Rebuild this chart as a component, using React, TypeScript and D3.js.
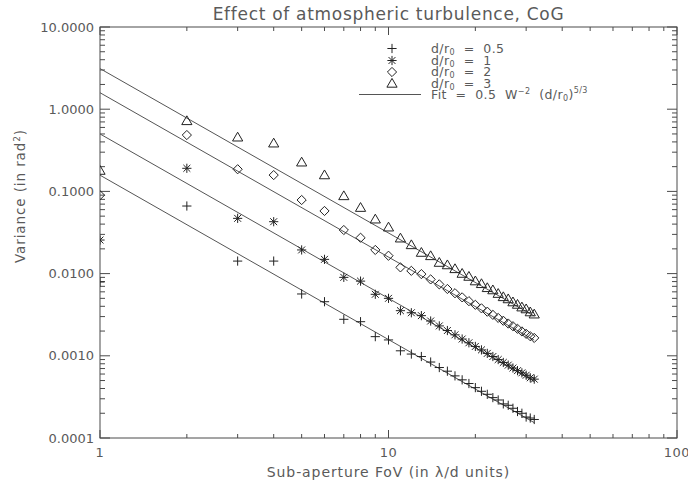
import React from "react";
import * as d3 from "d3";

const xs = [1,2,3,4,5,6,7,8,9,10,11,12,13,14,15,16,17,18,19,20,21,22,23,24,25,26,27,28,29,30,31,32];
const ratios = [0.5, 1, 2, 3];
const vPlus = [0.0079,0.0664,0.0142,0.0142,0.00565,0.00455,0.00278,0.0026,0.00171,0.00156,0.00115,0.00105,0.00098,0.00084,0.00072,0.00065,0.00057,0.00051,0.00046,0.00041,0.00037,0.00034,0.00031,0.00029,0.00026,0.00025,0.00023,0.00021,0.0002,0.00018,0.000175,0.000168];
const vStar = [0.0256,0.191,0.047,0.0428,0.0194,0.0149,0.009,0.0081,0.0056,0.005,0.00354,0.00334,0.00308,0.00265,0.00231,0.00203,0.0018,0.0016,0.00144,0.0013,0.00118,0.00107,0.00098,0.0009,0.00083,0.00077,0.00071,0.00066,0.00062,0.00058,0.00054,0.00052];
const vDiamond = [0.09,0.485,0.186,0.158,0.0786,0.0578,0.0339,0.0273,0.0194,0.0165,0.0119,0.0108,0.00986,0.0085,0.0074,0.0065,0.00577,0.00514,0.00462,0.00417,0.00378,0.00344,0.00315,0.00289,0.00267,0.00247,0.00229,0.00213,0.00198,0.00185,0.00173,0.00165];
const vTriangle = [0.179,0.72,0.455,0.385,0.226,0.158,0.088,0.0634,0.0458,0.0366,0.0269,0.0223,0.018,0.0164,0.0136,0.0127,0.0114,0.01,0.0092,0.0081,0.0075,0.0067,0.0063,0.0057,0.0052,0.0049,0.0045,0.0042,0.0039,0.0037,0.0034,0.0032];
const yTickLabels = ["0.0001","0.0010","0.0100","0.1000","1.0000","10.0000"];
const xTickLabels = ["1","10","100"];
const legendRatios = ["0.5","1","2","3"];

const W = 688, H = 484;
const L = 100, R = 677, T = 27, B = 438;
const axisColor = "#4a4a4a";
const textColor = "#5a5a5a";
const markColor = "#222";
const lineColor = "#555";
const font = "DejaVu Sans, sans-serif";

function Marker({ kind, x, y }: { kind: string; x: number; y: number }) {
  const s = 4.6;
  const common = { stroke: markColor, strokeWidth: 1, fill: "none" };
  if (kind === "plus") {
    return <path d={`M${x - s},${y}H${x + s}M${x},${y - s}V${y + s}`} {...common} />;
  }
  if (kind === "star") {
    const d = s * 0.75;
    return <path d={`M${x - s},${y}H${x + s}M${x},${y - s}V${y + s}M${x - d},${y - d}L${x + d},${y + d}M${x - d},${y + d}L${x + d},${y - d}`} {...common} />;
  }
  if (kind === "diamond") {
    return <path d={`M${x},${y - s}L${x + s},${y}L${x},${y + s}L${x - s},${y}Z`} {...common} />;
  }
  return <path d={`M${x},${y - s - 0.5}L${x + s + 0.5},${y + s * 0.8}L${x - s - 0.5},${y + s * 0.8}Z`} {...common} />;
}

export default function App() {
  const x = d3.scaleLog().domain([1, 100]).range([L, R]);
  const y = d3.scaleLog().domain([0.0001, 10]).range([B, T]);
  const series = [
    { kind: "plus", vals: vPlus },
    { kind: "star", vals: vStar },
    { kind: "diamond", vals: vDiamond },
    { kind: "triangle", vals: vTriangle },
  ];
  const xMajor = [1, 10, 100];
  const xMinor: number[] = [];
  for (const dec of [1, 10]) for (let k = 2; k <= 9; k++) xMinor.push(dec * k);
  const yMajor = [0.0001, 0.001, 0.01, 0.1, 1, 10];
  const yMinor: number[] = [];
  for (const dec of [0.0001, 0.001, 0.01, 0.1, 1]) for (let k = 2; k <= 9; k++) yMinor.push(dec * k);
  const line = d3.line<number>().x((d) => x(d));
  const fitX = [xs[0], xs[xs.length - 1]];

  const legX = 392, legTextX = 431;
  const legY = [48.5, 60.5, 72, 83.5];
  const kinds = ["plus", "star", "diamond", "triangle"];

  return (
    <svg width={W} height={H} style={{ position: "absolute", left: 0, top: 0, background: "#fff" }} fontFamily={font}>
      <defs>
        <clipPath id="plotclip">
          <rect x={L} y={T} width={R - L} height={B - T} />
        </clipPath>
      </defs>
      <rect width={W} height={H} fill="#fff" />
      <text x={(L + R) / 2} y={20} textAnchor="middle" fontSize={17} letterSpacing={0.7} fill={textColor}>
        Effect of atmospheric turbulence, CoG
      </text>
      <rect x={L} y={T} width={R - L} height={B - T} fill="none" stroke={axisColor} strokeWidth={1} />
      {xMajor.map((v) => (
        <g key={"xm" + v}>
          <line x1={x(v)} x2={x(v)} y1={B} y2={B - 8} stroke={axisColor} />
          <line x1={x(v)} x2={x(v)} y1={T} y2={T + 8} stroke={axisColor} />
        </g>
      ))}
      {xMinor.map((v) => (
        <g key={"xn" + v}>
          <line x1={x(v)} x2={x(v)} y1={B} y2={B - 4} stroke={axisColor} />
          <line x1={x(v)} x2={x(v)} y1={T} y2={T + 4} stroke={axisColor} />
        </g>
      ))}
      {xMajor.map((v, i) => (
        <text key={"xl" + v} x={x(v)} y={457} textAnchor="middle" fontSize={13} letterSpacing={0.5} fill={textColor}>
          {xTickLabels[i]}
        </text>
      ))}
      {yMajor.map((v) => (
        <g key={"ym" + v}>
          <line x1={L} x2={L + 10} y1={y(v)} y2={y(v)} stroke={axisColor} />
          <line x1={R} x2={R - 10} y1={y(v)} y2={y(v)} stroke={axisColor} />
        </g>
      ))}
      {yMinor.map((v) => (
        <g key={"yn" + v}>
          <line x1={L} x2={L + 5} y1={y(v)} y2={y(v)} stroke={axisColor} />
          <line x1={R} x2={R - 5} y1={y(v)} y2={y(v)} stroke={axisColor} />
        </g>
      ))}
      {yMajor.map((v, i) => (
        <text key={"yl" + v} x={94} y={y(v) + 4.5} textAnchor="end" fontSize={13} fill={textColor}>
          {yTickLabels[i]}
        </text>
      ))}
      <text x={(L + R) / 2} y={477} textAnchor="middle" fontSize={14} letterSpacing={0.9} fill={textColor}>
        Sub-aperture FoV (in λ/d units)
      </text>
      <text transform={`translate(25,196) rotate(-90)`} textAnchor="middle" fontSize={13.5} letterSpacing={0.9} fill={textColor}>
        Variance (in rad<tspan baseline-shift="super" fontSize={9}>2</tspan>)
      </text>
      <g clipPath="url(#plotclip)">
        {ratios.map((r) => (
          <path key={"fit" + r} d={line.y((d) => y(0.5 * Math.pow(d, -2) * Math.pow(r, 5 / 3)))(fitX) || ""} fill="none" stroke={lineColor} strokeWidth={1} />
        ))}
        {series.map((s) =>
          s.vals.map((v, i) => <Marker key={s.kind + i} kind={s.kind} x={x(xs[i])} y={y(v)} />)
        )}
      </g>
      {kinds.map((k, i) => (
        <g key={"leg" + k}>
          <Marker kind={k} x={legX} y={legY[i]} />
          <text x={legTextX} y={legY[i] + 4} fontSize={12.5} letterSpacing={0.4} fill={textColor} xmlSpace="preserve">
            d/r<tspan dy={2} fontSize={8}>0</tspan><tspan dy={-2}>{"  =  " + legendRatios[i]}</tspan>
          </text>
        </g>
      ))}
      <line x1={359} x2={421} y1={94.5} y2={94.5} stroke={lineColor} />
      <text x={legTextX} y={99} fontSize={12.5} letterSpacing={0.4} fill={textColor} xmlSpace="preserve">
        {"Fit  =  0.5  W"}<tspan dy={-5} fontSize={8}>−2</tspan><tspan dy={5}>{"  (d/r"}</tspan><tspan dy={2} fontSize={8}>0</tspan><tspan dy={-2}>)</tspan><tspan dy={-6} fontSize={8}>5/3</tspan>
      </text>
    </svg>
  );
}
